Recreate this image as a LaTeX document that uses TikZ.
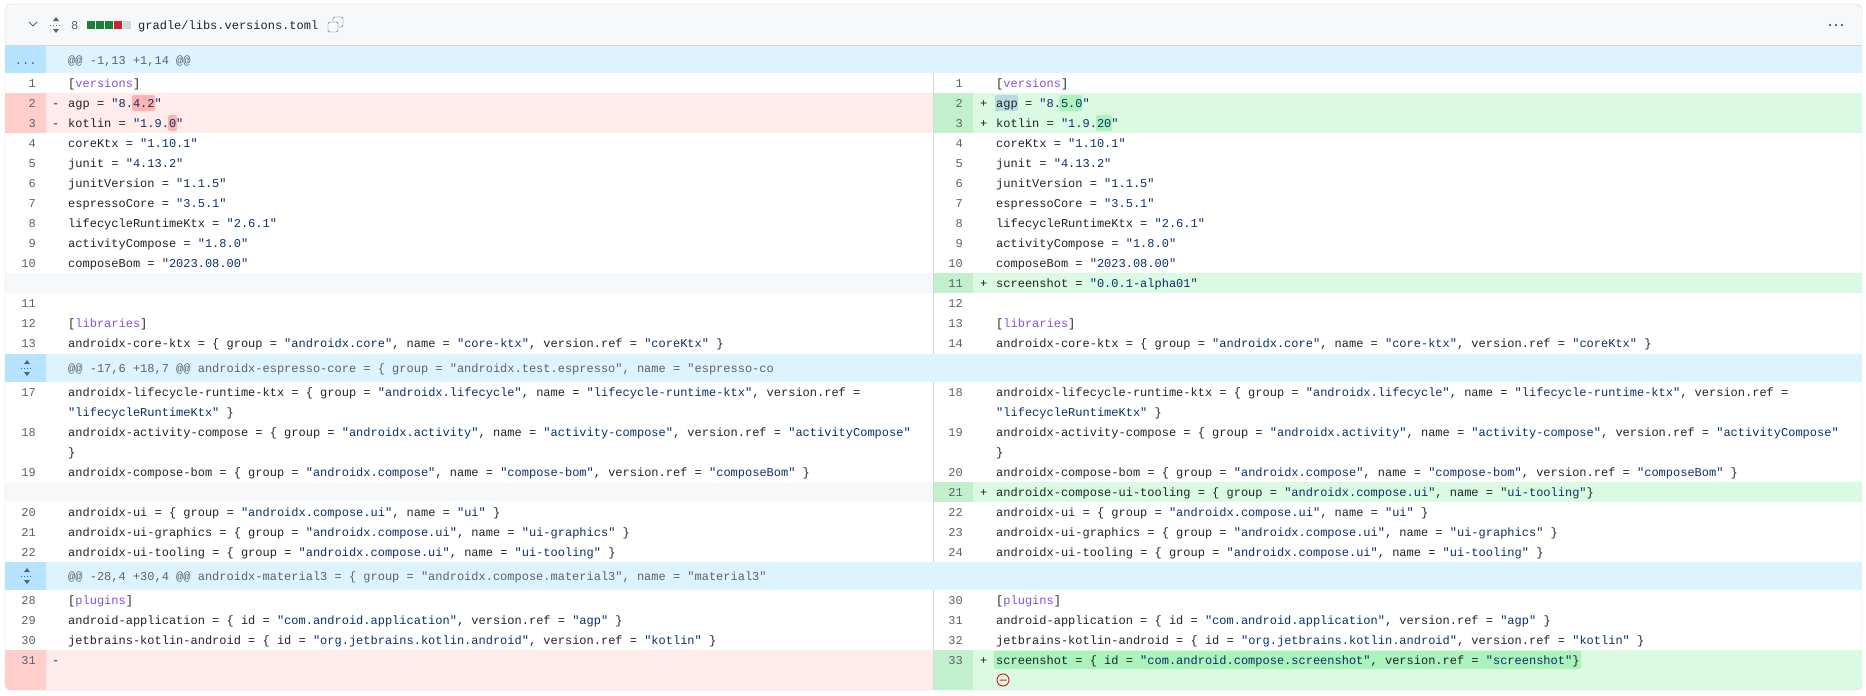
\documentclass[tikz,border=0pt]{standalone}
\usepackage{fontspec}
\setmainfont{Liberation Sans}
\setmonofont{Liberation Mono}
\definecolor{rim}{HTML}{D1D9E0}
\definecolor{headbg}{HTML}{F6F8FA}
\definecolor{hunkbg}{HTML}{DDF4FF}
\definecolor{hunknum}{HTML}{B6E3FF}
\definecolor{delbg}{HTML}{FFEBE9}
\definecolor{delnum}{HTML}{FFCECB}
\definecolor{delword}{HTML}{FFB3B0}
\definecolor{addbg}{HTML}{DAFBE1}
\definecolor{addnum}{HTML}{C2F0CC}
\definecolor{addword}{HTML}{ABF2BC}
\definecolor{selword}{HTML}{B4DDE2}
\definecolor{numgray}{HTML}{59636E}
\definecolor{codefg}{HTML}{1F2328}
\definecolor{strblue}{HTML}{0A3069}
\definecolor{secpurple}{HTML}{8250DF}
\definecolor{barred}{HTML}{CF222E}
\definecolor{bargreen}{HTML}{1A7F37}

\newcommand\q[1]{\textcolor{strblue}{"#1"}}
\newcommand\sect[1]{[\textcolor{secpurple}{#1}]}

% one line, same text on both sides
\newcommand\pair[4]{%
  \node[num]  (ln#2) at (36,{#1+4}) {#2};
  \node[code] (lt#2) at (68,{#1+4}) {#4};
  \node[num]  (rn#3) at (963,{#1+4}) {#3};
  \node[code] (rt#3) at (996,{#1+4}) {#4};}
% wrapped tail of a line
\newcommand\wrapped[2]{%
  \node[code] (lw#1) at (68,{#1+4}) {#2};
  \node[code] (rw#1) at (996,{#1+4}) {#2};}
% unfold icon
\newcommand\unfold[2]{%
  \fill[numgray] (#1-3,#2-4) -- (#1+3,#2-4) -- (#1,#2-8) -- cycle;
  \fill[numgray] (#1-3,#2+4) -- (#1+3,#2+4) -- (#1,#2+8) -- cycle;
  \draw[numgray, dotted, line width=1pt] (#1-6,#2) -- (#1+6,#2);}

\begin{document}
\begin{tikzpicture}[x=1pt, y=-1pt,
    num/.style={anchor=base east, inner sep=0pt, font=\ttfamily\fontsize{12}{14}\selectfont, text=numgray},
    code/.style={anchor=base west, inner sep=0pt, font=\ttfamily\fontsize{12}{14}\selectfont, text=codefg},
    hunk/.style={code, text=numgray},
    word/.style={rounded corners=2pt}]

    \useasboundingbox (0,0) rectangle (1866,696);

    % Backgrounds
    \begin{scope}
        \clip[rounded corners=6pt] (5,4) rectangle (1862,690);
        \fill[headbg] (5,4) rectangle (1862,45);
        \foreach \top/\bot in {46/73, 354/382, 562/590} {
            \fill[hunkbg]  (5,\top) rectangle (1862,\bot);
            \fill[hunknum] (5,\top) rectangle (46,\bot);
        }
        % deleted lines
        \foreach \top/\bot in {93/133, 650/690} {
            \fill[delbg]  (5,\top) rectangle (933,\bot);
            \fill[delnum] (5,\top) rectangle (46,\bot);
        }
        % added lines
        \foreach \top/\bot in {93/133, 273/293, 482/502, 650/690} {
            \fill[addbg]  (933,\top) rectangle (1862,\bot);
            \fill[addnum] (933,\top) rectangle (973,\bot);
        }
        % empty slots
        \foreach \top/\bot in {273/293, 482/502}
            \fill[headbg] (5,\top) rectangle (933,\bot);
    \end{scope}

    % Word highlights
    \fill[word, delword] (132,95) rectangle (155,111);
    \fill[word, delword] (168,115) rectangle (177,131);
    \fill[word, selword] (995,95) rectangle (1018,111);
    \fill[word, addword] (1059,95) rectangle (1082,111);
    \fill[word, addword] (1096,115) rectangle (1112,131);
    \fill[word, addword] (994,651) rectangle (1581,669);

    % Frame and dividers
    \draw[rim] (5,45.5) -- (1862,45.5);
    \foreach \top/\bot in {73/354, 382/562, 590/690}
        \draw[rim] (933,\top) -- (933,\bot);
    \draw[rim, rounded corners=6pt] (5,4) rectangle (1862,690);

    % Header
    \draw[numgray, line width=1pt] (29,22) -- (33,26) -- (37,22);
    \unfold{56}{25}
    \node[code, text=numgray] (count) at (71,29) {8};
    \foreach \i/\c in {0/bargreen, 1/bargreen, 2/bargreen, 3/barred, 4/rim}
        \fill[\c] ({87+9*\i},21) rectangle ({95+9*\i},29);
    \node[code] (file) at (138,29) {gradle/libs.versions.toml};
    \draw[numgray, rounded corners=1.5pt] (333,17) rectangle (343,27);
    \draw[numgray, fill=headbg, rounded corners=1.5pt] (328,22) rectangle (338,32);
    \foreach \x in {1830,1836,1842}
        \fill[numgray] (\x,25) circle (1.3);

    % Hunk headers
    \node[hunk] (dots) at (25,64) {\makebox[0pt]{...}};
    \node[hunk] (h1) at (68,64) {@@ -1,13 +1,14 @@};
    \unfold{27}{368}
    \node[hunk] (h2) at (68,372) {@@ -17,6 +18,7 @@ androidx-espresso-core = \{ group = "androidx.test.espresso", name = "espresso-co};
    \unfold{27}{576}
    \node[hunk] (h3) at (68,580) {@@ -28,4 +30,4 @@ androidx-material3 = \{ group = "androidx.compose.material3", name = "material3"};

    % First hunk
    \pair{83}{1}{1}{\sect{versions}}
    \node[num] (ln2) at (36,107) {2};
    \node[code] (lm2) at (52,107) {-};
    \node[code] (lt2) at (68,107) {agp = \q{8.4.2}};
    \node[num] (ln3) at (36,127) {3};
    \node[code] (lm3) at (52,127) {-};
    \node[code] (lt3) at (68,127) {kotlin = \q{1.9.0}};
    \node[num] (rn2) at (963,107) {2};
    \node[code] (rp2) at (980,107) {+};
    \node[code] (rt2) at (996,107) {agp = \q{8.5.0}};
    \node[num] (rn3) at (963,127) {3};
    \node[code] (rp3) at (980,127) {+};
    \node[code] (rt3) at (996,127) {kotlin = \q{1.9.20}};
    \pair{143}{4}{4}{coreKtx = \q{1.10.1}}
    \pair{163}{5}{5}{junit = \q{4.13.2}}
    \pair{183}{6}{6}{junitVersion = \q{1.1.5}}
    \pair{203}{7}{7}{espressoCore = \q{3.5.1}}
    \pair{223}{8}{8}{lifecycleRuntimeKtx = \q{2.6.1}}
    \pair{243}{9}{9}{activityCompose = \q{1.8.0}}
    \pair{263}{10}{10}{composeBom = \q{2023.08.00}}
    \node[num] (rn11) at (963,287) {11};
    \node[code] (rp11) at (980,287) {+};
    \node[code] (rt11) at (996,287) {screenshot = \q{0.0.1-alpha01}};
    \pair{303}{11}{12}{}
    \pair{323}{12}{13}{\sect{libraries}}
    \pair{343}{13}{14}{androidx-core-ktx = \{ group = \q{androidx.core}, name = \q{core-ktx}, version.ref = \q{coreKtx} \}}

    % Second hunk
    \pair{392}{17}{18}{androidx-lifecycle-runtime-ktx = \{ group = \q{androidx.lifecycle}, name = \q{lifecycle-runtime-ktx}, version.ref =}
    \wrapped{412}{\q{lifecycleRuntimeKtx} \}}
    \pair{432}{18}{19}{androidx-activity-compose = \{ group = \q{androidx.activity}, name = \q{activity-compose}, version.ref = \q{activityCompose}}
    \wrapped{452}{\}}
    \pair{472}{19}{20}{androidx-compose-bom = \{ group = \q{androidx.compose}, name = \q{compose-bom}, version.ref = \q{composeBom} \}}
    \node[num] (rn21) at (963,496) {21};
    \node[code] (rp21) at (980,496) {+};
    \node[code] (rt21) at (996,496) {androidx-compose-ui-tooling = \{ group = \q{androidx.compose.ui}, name = \q{ui-tooling}\}};
    \pair{512}{20}{22}{androidx-ui = \{ group = \q{androidx.compose.ui}, name = \q{ui} \}}
    \pair{532}{21}{23}{androidx-ui-graphics = \{ group = \q{androidx.compose.ui}, name = \q{ui-graphics} \}}
    \pair{552}{22}{24}{androidx-ui-tooling = \{ group = \q{androidx.compose.ui}, name = \q{ui-tooling} \}}

    % Third hunk
    \pair{600}{28}{30}{\sect{plugins}}
    \pair{620}{29}{31}{android-application = \{ id = \q{com.android.application}, version.ref = \q{agp} \}}
    \pair{640}{30}{32}{jetbrains-kotlin-android = \{ id = \q{org.jetbrains.kotlin.android}, version.ref = \q{kotlin} \}}
    \node[num] (ln31) at (36,664) {31};
    \node[code] (lm31) at (52,664) {-};
    \node[num] (rn33) at (963,664) {33};
    \node[code] (rp33) at (980,664) {+};
    \node[code] (rt33) at (996,664) {screenshot = \{ id = \q{com.android.compose.screenshot}, version.ref = \q{screenshot}\}};
    \draw[barred, line width=1pt] (1003,680) circle (6) (999.5,680) -- (1006.5,680);

\end{tikzpicture}
\end{document}
